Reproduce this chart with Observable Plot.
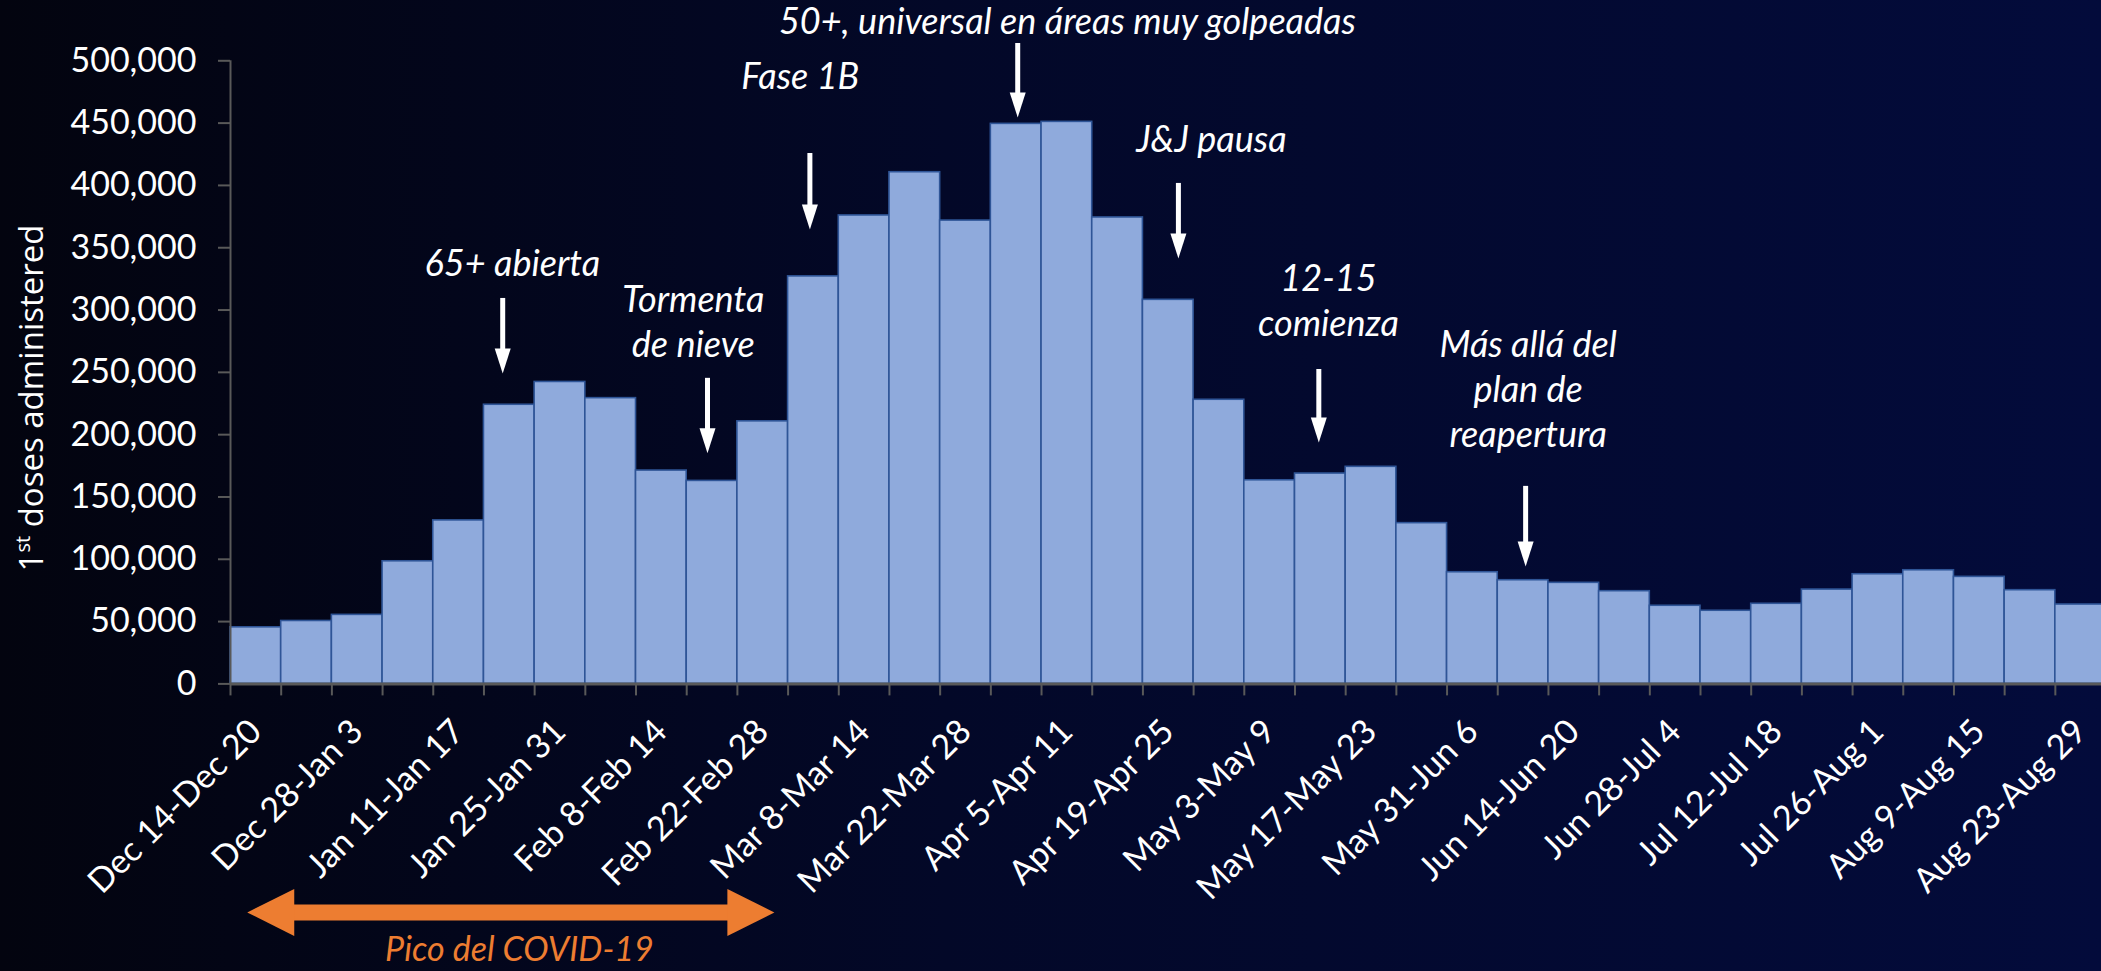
<!DOCTYPE html>
<html>
<head>
<meta charset="utf-8">
<script src="https://cdn.jsdelivr.net/npm/d3@7"></script>
<script src="https://cdn.jsdelivr.net/npm/@observablehq/plot@0.6"></script>
<style>
  html, body { margin: 0; padding: 0; overflow: hidden; }
  body {
    width: 2101px; height: 971px;
    background: linear-gradient(to right, #03040f 0%, #030828 45%, #030b3b 100%);
  }
  #chart svg { display: block; }
</style>
</head>
<body>
<div id="chart"></div>
<script>
// ---------- data ----------
const weeks = [
  "Dec 14-Dec 20", "Dec 21-Dec 27", "Dec 28-Jan 3", "Jan 4-Jan 10", "Jan 11-Jan 17",
  "Jan 18-Jan 24", "Jan 25-Jan 31", "Feb 1-Feb 7", "Feb 8-Feb 14", "Feb 15-Feb 21",
  "Feb 22-Feb 28", "Mar 1-Mar 7", "Mar 8-Mar 14", "Mar 15-Mar 21", "Mar 22-Mar 28",
  "Mar 29-Apr 4", "Apr 5-Apr 11", "Apr 12-Apr 18", "Apr 19-Apr 25", "Apr 26-May 2",
  "May 3-May 9", "May 10-May 16", "May 17-May 23", "May 24-May 30", "May 31-Jun 6",
  "Jun 7-Jun 13", "Jun 14-Jun 20", "Jun 21-Jun 27", "Jun 28-Jul 4", "Jul 5-Jul 11",
  "Jul 12-Jul 18", "Jul 19-Jul 25", "Jul 26-Aug 1", "Aug 2-Aug 8", "Aug 9-Aug 15",
  "Aug 16-Aug 22", "Aug 23-Aug 29"
];
const doses = [
  45400, 50500, 55400, 98400, 131200, 224000, 242300, 229300, 171200, 162900,
  210700, 327000, 375900, 410600, 371800, 449400, 451000, 374300, 308200, 228000,
  163400, 168800, 174200, 129000, 89600, 83200, 81100, 74400, 62700, 58700,
  64300, 75700, 88000, 91200, 85900, 75200, 63700
];
const yTicks = [0, 50000, 100000, 150000, 200000, 250000, 300000, 350000, 400000, 450000, 500000];
const yTitle = ["1", "st", " doses administered"];

// annotation labels (x in week units, y in doses units)
const annoText = [
  "65+ abierta", "Tormenta\nde nieve", "Fase 1B",
  "50+, universal en áreas muy golpeadas", "J&J pausa",
  "12-15\ncomienza", "Más allá del\nplan de\nreapertura"
];
const annoX = [5.56, 9.13, 11.24, 16.51, 19.35, 21.66, 25.6];
const annoY = [339000, 291600, 489000, 532800, 438000, 308500, 237800];

// white arrows
const arrowX = [5.37, 9.41, 11.43, 15.53, 18.70, 21.47, 25.55];
const arrowTop = [309300, 245200, 425600, 513900, 401600, 252300, 158500];
const arrowTip = [249100, 185000, 364600, 454500, 341400, 193700, 94300];

// orange period arrow
const peakLabel = "Pico del COVID-19";
const peakStart = 0.33;
const peakEnd = 10.73;
const peakArrowY = -183400;
const peakLabelY = -214000;

// ---------- build ----------
const rows = weeks.map((w, i) => ({i, week: w, doses: doses[i]}));
const annos = annoText.map((t, i) => ({text: t, x: annoX[i], y: annoY[i]}));
const arrows = arrowX.map((x, i) => ({x, top: arrowTop[i], tip: arrowTip[i]}));
const boundaries = d3.range(0, weeks.length + 1);
const labelTicks = d3.range(0, weeks.length, 2).map(i => i + 0.5);

const downHead = {draw(ctx) { ctx.moveTo(-8, -25); ctx.lineTo(8, -25); ctx.lineTo(0, 0); ctx.closePath(); }};
const leftHead = {draw(ctx) { ctx.moveTo(0, 0); ctx.lineTo(47, -23.5); ctx.lineTo(47, 23.5); ctx.closePath(); }};
const rightHead = {draw(ctx) { ctx.moveTo(0, 0); ctx.lineTo(-47, -23.5); ctx.lineTo(-47, 23.5); ctx.closePath(); }};

const grey = "#595959";
const font = "Lato";

const plot = Plot.plot({
  width: 2101,
  height: 971,
  marginLeft: 230,
  marginRight: 0,
  marginTop: 60,
  marginBottom: 287.6,
  style: {background: "transparent", color: "white", overflow: "visible", fontFamily: font},
  x: {type: "linear", domain: [0, weeks.length], range: [230, 230 + weeks.length * 50.69]},
  y: {domain: [0, 500000], range: [683.4, 60.3]},
  marks: [
    Plot.rect(rows, {x1: "i", x2: d => d.i + 1, y1: 0, y2: "doses", fill: "#8faadc", stroke: "#2f5597", strokeWidth: 1.6}),
    Plot.ruleY([0], {stroke: grey, strokeWidth: 3}),
    Plot.ruleX([0], {y1: 0, y2: 500000, stroke: grey, strokeWidth: 2}),
    Plot.axisY({ticks: yTicks, tickFormat: d3.format(","), tickSize: 12, tickPadding: 22, fontSize: 34, fill: "white", stroke: grey, strokeWidth: 2, label: null, fontFamily: font}),
    Plot.axisX({ticks: boundaries, tickFormat: () => "", tickSize: 12, stroke: grey, strokeWidth: 2, label: null}),
    Plot.axisX({ticks: labelTicks, tickFormat: d => weeks[Math.floor(d)], tickSize: 0, tickPadding: 42, tickRotate: -45, fontSize: 34, fill: "white", label: null, fontFamily: font}),
    // annotation arrows
    Plot.ruleX(arrows, {x: "x", y1: "top", y2: "tip", stroke: "white", strokeWidth: 5, insetBottom: 20}),
    Plot.dot(arrows, {x: "x", y: "tip", symbol: downHead, r: 1, fill: "white", stroke: null}),
    // annotation text
    Plot.text(annos, {x: "x", y: "y", text: "text", fontSize: 36, fontStyle: "italic", fontFamily: font, fill: "white", lineHeight: 1.25}),
    // orange period arrow
    Plot.ruleY([peakArrowY], {x1: peakStart, x2: peakEnd, stroke: "#ed7d31", strokeWidth: 16, insetLeft: 44, insetRight: 44}),
    Plot.dot([peakStart], {x: d => d, y: peakArrowY, symbol: leftHead, r: 1, fill: "#ed7d31", stroke: null}),
    Plot.dot([peakEnd], {x: d => d, y: peakArrowY, symbol: rightHead, r: 1, fill: "#ed7d31", stroke: null}),
    Plot.text([peakLabel], {x: (peakStart + peakEnd) / 2 + 0.17, y: peakLabelY, text: d => d, fontSize: 34, fontStyle: "italic", fontFamily: font, fill: "#ed7d31"})
  ]
});

// y axis title with superscript
const svg = d3.select(plot);
const t = svg.append("text")
  .attr("transform", "translate(43,398) rotate(-90)")
  .attr("text-anchor", "middle")
  .attr("fill", "white")
  .style("font-family", "'Open Sans'")
  .style("font-size", "33px");
t.append("tspan").text(yTitle[0]);
t.append("tspan").attr("dy", -13).style("font-size", "20px").text(yTitle[1]);
t.append("tspan").attr("dy", 13).text(yTitle[2]);

document.getElementById("chart").appendChild(plot);
</script>
</body>
</html>
